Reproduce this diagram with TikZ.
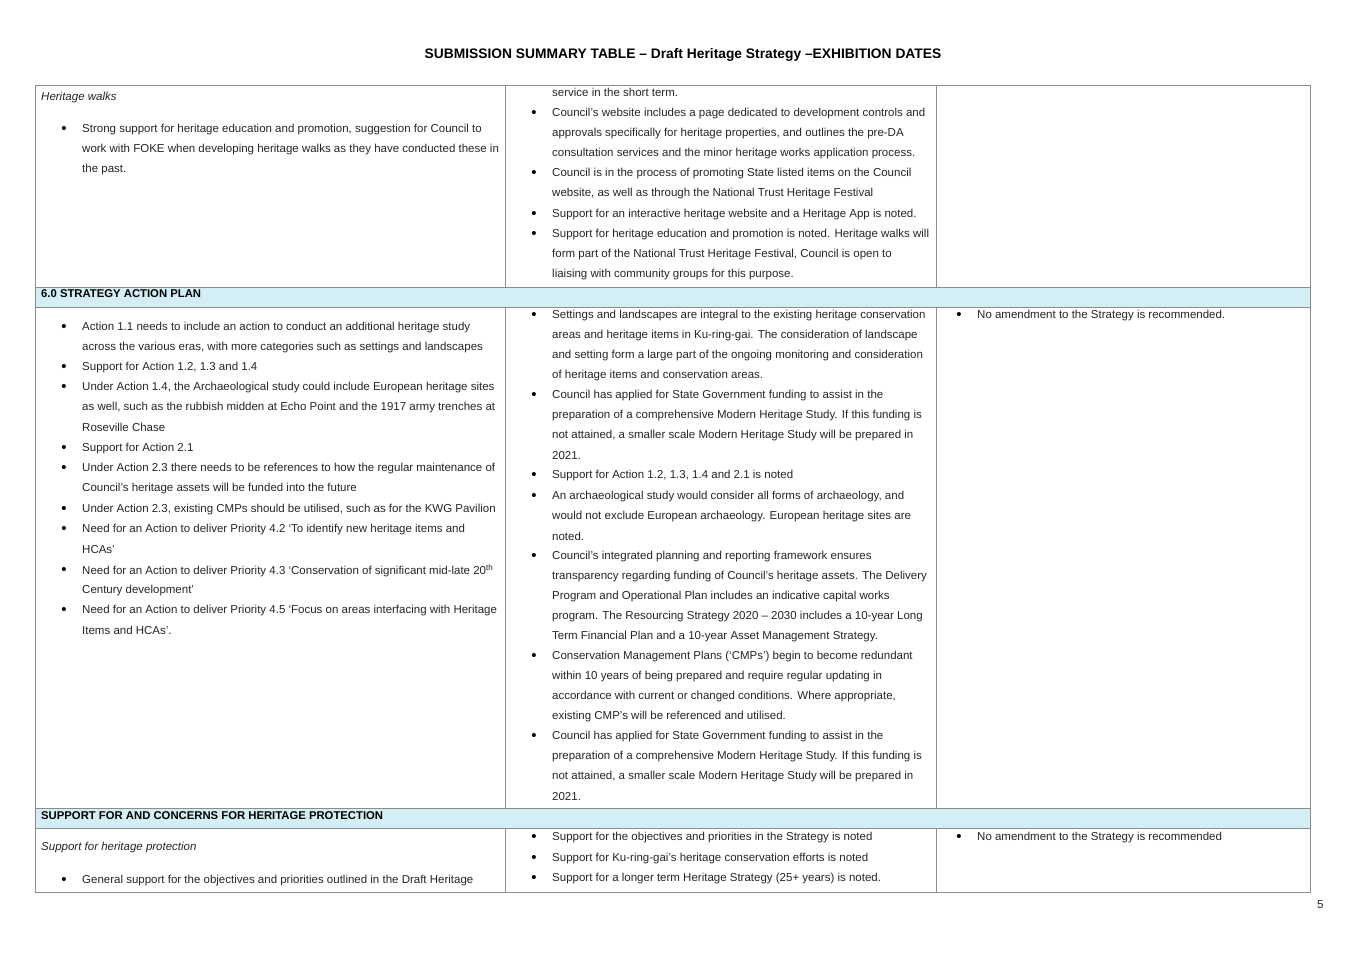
\documentclass[tikz,border=0pt]{standalone}
\usepackage{fontspec}
\setmainfont{Liberation Sans}
\definecolor{band}{RGB}{212,238,246}
\definecolor{rule}{RGB}{140,140,140}
\newcounter{lnc}
\newcommand\tl[3]{\stepcounter{lnc}\node[txt] (t\arabic{lnc}) at (#1,#2+1.5) {#3};}
\newcommand\bl[3]{\stepcounter{lnc}\node[txt] (t\arabic{lnc}) at (#1,#2+1.5) {#3};\node[bul] (b\arabic{lnc}) at (#1-18,#2+1.5) {•};}
\begin{document}
\begin{tikzpicture}[x=1pt,y=-1pt,
  txt/.style={anchor=west,inner sep=0pt,font=\fontsize{11.5}{13}\selectfont,text=black!85},
  bul/.style={inner sep=0pt,font=\fontsize{15}{15}\selectfont,text=black},
  hdr/.style={anchor=west,inner sep=0pt,font=\fontsize{11.3}{13}\selectfont\bfseries},
  grid/.style={draw=rule,line width=0.8pt}]
\useasboundingbox (0,0) rectangle (1366,966);
\fill[white] (0,0) rectangle (1366,966);
\node[font=\fontsize{13.8}{15}\selectfont\bfseries] (title) at (683,55) {SUBMISSION SUMMARY TABLE – Draft Heritage Strategy –EXHIBITION DATES};
\fill[band] (35,287) rectangle (1310,307);
\fill[band] (35,808) rectangle (1310,828);
\draw[grid] (35,85) rectangle (1310,892);
\draw[grid] (35,287) -- (1310,287) (35,307) -- (1310,307) (35,808) -- (1310,808) (35,828) -- (1310,828);
\draw[grid] (505,85) -- (505,287) (936,85) -- (936,287);
\draw[grid] (505,307) -- (505,808) (936,307) -- (936,808);
\draw[grid] (505,828) -- (505,892) (936,828) -- (936,892);
% column 1
\tl{41}{96}{\itshape Heritage walks}
\bl{82}{128}{Strong support for heritage education and promotion, suggestion for Council to}
\tl{82}{148}{work with FOKE when developing heritage walks as they have conducted these in}
\tl{82}{168}{the past.}
\node[hdr] (h1) at (41,294) {6.0 STRATEGY ACTION PLAN};
\bl{82}{326}{Action 1.1 needs to include an action to conduct an additional heritage study}
\tl{82}{346}{across the various eras, with more categories such as settings and landscapes}
\bl{82}{366}{Support for Action 1.2, 1.3 and 1.4}
\bl{82}{386}{Under Action 1.4, the Archaeological study could include European heritage sites}
\tl{82}{406}{as well, such as the rubbish midden at Echo Point and the 1917 army trenches at}
\tl{82}{426}{Roseville Chase}
\bl{82}{447}{Support for Action 2.1}
\bl{82}{467}{Under Action 2.3 there needs to be references to how the regular maintenance of}
\tl{82}{487}{Council’s heritage assets will be funded into the future}
\bl{82}{508}{Under Action 2.3, existing CMPs should be utilised, such as for the KWG Pavilion}
\bl{82}{528}{Need for an Action to deliver Priority 4.2 ‘To identify new heritage items and}
\tl{82}{548}{HCAs’}
\bl{82}{569}{Need for an Action to deliver Priority 4.3 ‘Conservation of significant mid-late 20\textsuperscript{th}}
\tl{82}{589}{Century development’}
\bl{82}{609}{Need for an Action to deliver Priority 4.5 ‘Focus on areas interfacing with Heritage}
\tl{82}{629}{Items and HCAs’.}
\node[hdr] (h2) at (41,816) {SUPPORT FOR AND CONCERNS FOR HERITAGE PROTECTION};
\tl{41}{846}{\itshape Support for heritage protection}
\bl{82}{879}{General support for the objectives and priorities outlined in the Draft Heritage}
% column 2
\tl{552}{91}{service in the short term.}
\bl{552}{112}{Council’s website includes a page dedicated to development controls and}
\tl{552}{132}{approvals specifically for heritage properties, and outlines the pre-DA}
\tl{552}{152}{consultation services and the minor heritage works application process.}
\bl{552}{172}{Council is in the process of promoting State listed items on the Council}
\tl{552}{192}{website, as well as through the National Trust Heritage Festival}
\bl{552}{213}{Support for an interactive heritage website and a Heritage App is noted.}
\bl{552}{233}{Support for heritage education and promotion is noted. Heritage walks will}
\tl{552}{253}{form part of the National Trust Heritage Festival, Council is open to}
\tl{552}{273}{liaising with community groups for this purpose.}
\bl{552}{314}{Settings and landscapes are integral to the existing heritage conservation}
\tl{552}{334}{areas and heritage items in Ku-ring-gai. The consideration of landscape}
\tl{552}{354}{and setting form a large part of the ongoing monitoring and consideration}
\tl{552}{374}{of heritage items and conservation areas.}
\bl{552}{394}{Council has applied for State Government funding to assist in the}
\tl{552}{414}{preparation of a comprehensive Modern Heritage Study. If this funding is}
\tl{552}{434}{not attained, a smaller scale Modern Heritage Study will be prepared in}
\tl{552}{454}{2021.}
\bl{552}{474}{Support for Action 1.2, 1.3, 1.4 and 2.1 is noted}
\bl{552}{495}{An archaeological study would consider all forms of archaeology, and}
\tl{552}{515}{would not exclude European archaeology. European heritage sites are}
\tl{552}{535}{noted.}
\bl{552}{555}{Council’s integrated planning and reporting framework ensures}
\tl{552}{575}{transparency regarding funding of Council’s heritage assets. The Delivery}
\tl{552}{595}{Program and Operational Plan includes an indicative capital works}
\tl{552}{615}{program. The Resourcing Strategy 2020 – 2030 includes a 10-year Long}
\tl{552}{635}{Term Financial Plan and a 10-year Asset Management Strategy.}
\bl{552}{655}{Conservation Management Plans (‘CMPs’) begin to become redundant}
\tl{552}{675}{within 10 years of being prepared and require regular updating in}
\tl{552}{695}{accordance with current or changed conditions. Where appropriate,}
\tl{552}{715}{existing CMP’s will be referenced and utilised.}
\bl{552}{735}{Council has applied for State Government funding to assist in the}
\tl{552}{755}{preparation of a comprehensive Modern Heritage Study. If this funding is}
\tl{552}{775}{not attained, a smaller scale Modern Heritage Study will be prepared in}
\tl{552}{795}{2021.}
\bl{552}{836}{Support for the objectives and priorities in the Strategy is noted}
\bl{552}{857}{Support for Ku-ring-gai’s heritage conservation efforts is noted}
\bl{552}{877}{Support for a longer term Heritage Strategy (25+ years) is noted.}
% column 3
\bl{977}{314}{No amendment to the Strategy is recommended.}
\bl{977}{836}{No amendment to the Strategy is recommended}
\node[txt] (pg) at (1317,905) {5};
\end{tikzpicture}
\end{document}
